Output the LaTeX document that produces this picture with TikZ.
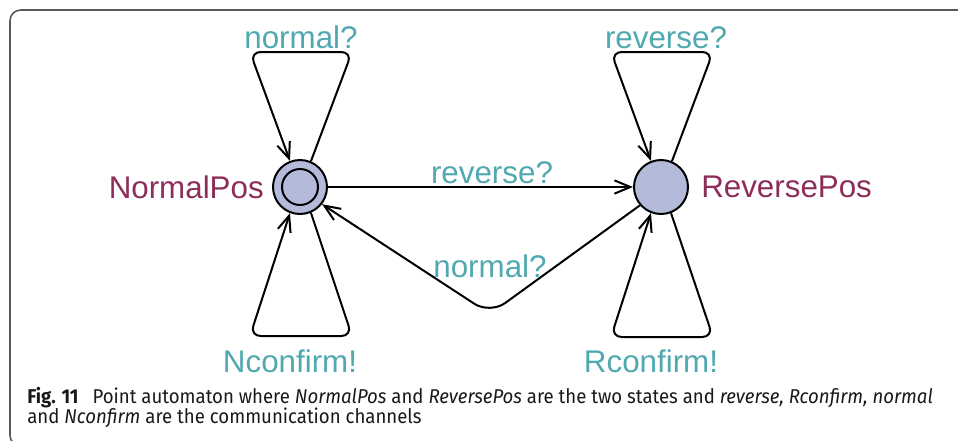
\documentclass[tikz,border=0pt]{standalone}
\usepackage{fontspec}
\setmainfont{Liberation Sans}
\newfontfamily\capfont[FakeStretch=0.93]{Fira Sans}
\usetikzlibrary{arrows.meta,positioning}

\definecolor{chanteal}{RGB}{80,168,176}
\definecolor{locmaroon}{RGB}{140,45,90}
\definecolor{locfill}{RGB}{180,186,218}

\begin{document}
\begin{tikzpicture}[x=0.75pt, y=-0.75pt,
        location/.style={circle, draw, line width=1.5pt, fill=locfill, minimum size=40.5pt, inner sep=0pt},
        locname/.style={text=locmaroon, inner sep=0pt, font=\fontsize{23.5}{28}\selectfont},
        channel/.style={text=chanteal, inner sep=0pt, anchor=base, font=\fontsize{23.5}{28}\selectfont},
        edge/.style={line width=1.5pt, rounded corners=8pt, -{Straight Barb[length=12pt, width=10pt]}},
        caption/.style={anchor=base west, inner sep=0pt, text=black!90, font=\capfont\fontsize{15}{18}\selectfont}]
        \useasboundingbox (0,0) rectangle (958,440);

        % Frame
        \draw [line width=1.2pt, black!65, rounded corners=8pt] (990,10) -- (10,10) -- (10,446) -- (990,446);

        % Locations
        \node [location] (normalpos) at (300,187) {};
        \draw [line width=1.5pt] (normalpos) circle [radius=18];
        \node [location] (reversepos) at (661,187) {};
        \node [locname, left=6pt of normalpos] (normalname) {NormalPos};
        \node [locname, right=9pt of reversepos] (reversename) {ReversePos};

        % Loops on NormalPos
        \coordinate (ntl) at (250,52);
        \coordinate (ntr) at (352,52);
        \coordinate (nbl) at (250,336);
        \coordinate (nbr) at (352,336);
        \draw [edge] (normalpos.67) -- (ntr) -- (ntl) -- (normalpos.111);
        \draw [edge] (normalpos.-67) -- (nbr) -- (nbl) -- (normalpos.-111);
        \node [channel] (ntlabel) at (301,48) {normal?};
        \node [channel] (nblabel) at (290,372) {Nconfirm!};

        % Loops on ReversePos
        \coordinate (rtl) at (611,52);
        \coordinate (rtr) at (713,52);
        \coordinate (rbl) at (611,337);
        \coordinate (rbr) at (713,337);
        \draw [edge] (reversepos.67) -- (rtr) -- (rtl) -- (reversepos.111);
        \draw [edge] (reversepos.-69) -- (rbr) -- (rbl) -- (reversepos.-111);
        \node [channel] (rtlabel) at (666,48) {reverse?};
        \node [channel] (rblabel) at (651,372) {Rconfirm!};

        % Edges between the locations
        \coordinate (dip) at (490,314);
        \draw [edge] (normalpos) -- (reversepos);
        \draw [edge, rounded corners=14pt] (reversepos.-139) -- (dip) -- (normalpos.-38);
        \node [channel] (fwdlabel) at (492,183) {reverse?};
        \node [channel] (backlabel) at (490,277) {normal?};

        % Caption
        \node [caption] (capone) at (27,403) {\textbf{Fig. 11}\hspace{0.7em}Point automaton where \textit{NormalPos} and \textit{ReversePos} are the two states and \textit{reverse, Rconfirm, normal}};
        \node [caption] (captwo) at (27,423) {and \textit{Nconfirm} are the communication channels};
    \end{tikzpicture}
\end{document}
